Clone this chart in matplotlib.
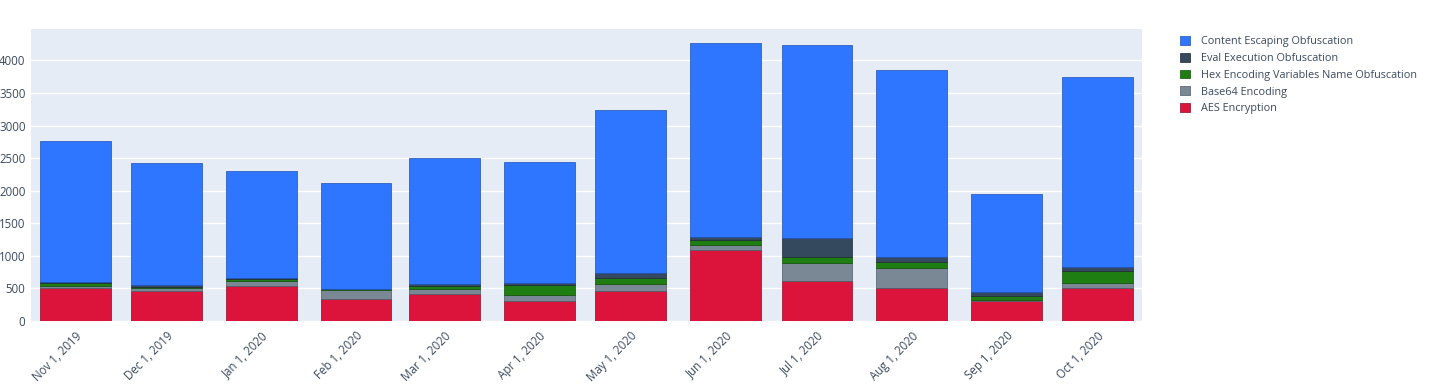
import datetime as dt
import matplotlib
matplotlib.use("Agg")
import matplotlib.pyplot as plt
import matplotlib.dates as mdates
from matplotlib.patches import Patch
import numpy as np

plt.rcParams['font.family'] = ['Open Sans', 'DejaVu Sans']

# Monthly counts per obfuscation technique
months = [dt.date(2019, 11, 1), dt.date(2019, 12, 1), dt.date(2020, 1, 1), dt.date(2020, 2, 1),
          dt.date(2020, 3, 1), dt.date(2020, 4, 1), dt.date(2020, 5, 1), dt.date(2020, 6, 1),
          dt.date(2020, 7, 1), dt.date(2020, 8, 1), dt.date(2020, 9, 1), dt.date(2020, 10, 1)]
tick_labels = ['Nov 1, 2019', 'Dec 1, 2019', 'Jan 1, 2020', 'Feb 1, 2020', 'Mar 1, 2020',
               'Apr 1, 2020', 'May 1, 2020', 'Jun 1, 2020', 'Jul 1, 2020', 'Aug 1, 2020',
               'Sep 1, 2020', 'Oct 1, 2020']

aes = [500, 460, 530, 330, 410, 300, 465, 1090, 615, 500, 300, 500]
base64 = [40, 45, 90, 150, 80, 100, 110, 80, 270, 320, 25, 80]
hex_names = [50, 15, 25, 10, 50, 150, 80, 75, 90, 90, 65, 190]
eval_exec = [15, 30, 15, 5, 30, 30, 80, 40, 300, 70, 50, 60]
content = [2155, 1870, 1640, 1620, 1930, 1860, 2510, 2975, 2955, 2870, 1507, 2920]

series = [
    ('AES Encryption', aes, '#DC143C', '#8B0A24'),
    ('Base64 Encoding', base64, '#7A8896', '#4E5A66'),
    ('Hex Encoding Variables Name Obfuscation', hex_names, '#1E7E12', '#0F4F08'),
    ('Eval Execution Obfuscation', eval_exec, '#34495E', '#1C2833'),
    ('Content Escaping Obfuscation', content, '#2E75FF', '#1F4FB0'),
]

x = mdates.date2num(months)
width = 0.8 * 29  # plotly: 0.8 of smallest gap (Feb, 29 days)

fig = plt.figure(figsize=(14.4, 3.88), dpi=100)
ax = fig.add_axes([31 / 1440, 67 / 388, 1111 / 1440, 292 / 388])
ax.set_facecolor('#E5ECF6')

bottom = np.zeros(len(x))
for name, vals, color, edge in series:
    ax.bar(x, vals, width=width, bottom=bottom, color=color, edgecolor=edge,
           linewidth=0.5, zorder=3, label=name)
    bottom += np.array(vals)

ax.set_xlim(x[0] - 14.5, x[-1] + 14.5)
ax.set_ylim(0, bottom.max() * 1.052)
ax.set_yticks(np.arange(0, 4001, 500))
ax.set_xticks(x)
ax.set_xticklabels(tick_labels, rotation=45, ha='right', rotation_mode='anchor')

ax.grid(True, axis='y', color='white', linewidth=1, zorder=0)
ax.set_axisbelow(True)
for s in ax.spines.values():
    s.set_visible(False)
ax.tick_params(axis='both', length=0, labelsize=8.3, colors='#3B4A5F', pad=4)
ax.tick_params(axis='x', pad=6)

handles = [Patch(facecolor=c, edgecolor=e, linewidth=0.5, label=n) for n, v, c, e in series[::-1]]
fig.legend(handles=handles, loc='upper left', bbox_to_anchor=(1176 / 1440, 1 - 32 / 388),
           frameon=False, fontsize=7.8, handlelength=0.85, handleheight=0.85,
           handletextpad=1.05, labelspacing=0.52, labelcolor='#3B4A5F', borderaxespad=0)

fig.savefig('out.png', dpi=100, facecolor='white')
